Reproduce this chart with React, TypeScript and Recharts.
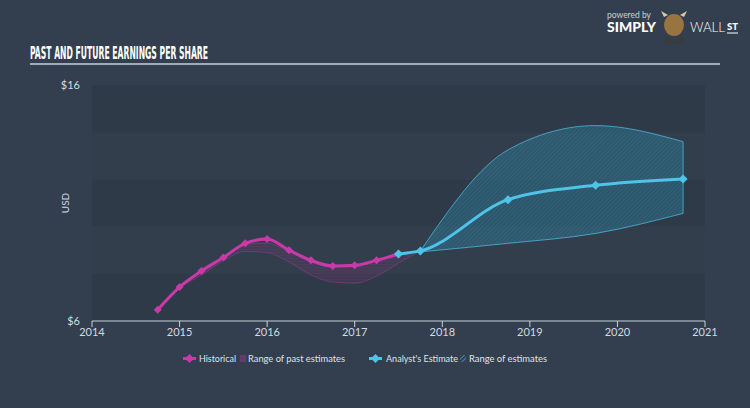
import React from 'react';
import { ComposedChart, Line, Area, XAxis, YAxis, ReferenceArea, ReferenceLine } from 'recharts';

// historico (trimestral)
const histYears = [2014.75, 2015, 2015.25, 2015.5, 2015.75, 2016, 2016.25, 2016.5, 2016.75, 2017, 2017.25, 2017.5];
const histEps = [6.48, 7.44, 8.12, 8.69, 9.29, 9.47, 9.0, 8.57, 8.33, 8.36, 8.57, 8.84];

// rango de estimaciones pasadas
const pastRangeYears = [2015, 2015.25, 2015.5, 2015.75, 2016, 2016.25, 2016.5, 2016.75, 2017, 2017.25, 2017.5, 2017.75];
const pastLow = [7.44, 7.95, 8.55, 8.95, 8.9, 8.5, 7.95, 7.65, 7.6, 7.9, 8.45, 8.97];
const pastHigh = [7.44, 8.12, 8.7, 9.25, 9.3, 8.95, 8.5, 8.3, 8.3, 8.55, 8.84, 8.97];

// estimacion de analistas
const estYears = [2017.5, 2017.75, 2018.75, 2019.75, 2020.75];
const estEps = [8.84, 8.97, 11.14, 11.75, 12.02];

const estRangeYears = [2017.75, 2018.75, 2019.75, 2020.75];
const estLow = [8.93, 9.29, 9.71, 10.56];
const estHigh = [8.97, 13.25, 14.28, 13.6];

const yearTicks = [2014, 2015, 2016, 2017, 2018, 2019, 2020, 2021];
const usdTicks = [6, 16];

const MAGENTA = '#c93aa9';
const CYAN = '#4fc3e8';
const BG = '#333f4e';
const AXIS = '#c9d2db';
const TXT = '#d3dae1';

// arma la tabla por año
const buildRows = () => {
    const map = new Map<number, any>();
    const get = (y: number) => {
        if (!map.has(y)) map.set(y, { year: y });
        return map.get(y);
    };
    histYears.forEach((y, i) => (get(y).hist = histEps[i]));
    estYears.forEach((y, i) => (get(y).est = estEps[i]));
    pastRangeYears.forEach((y, i) => (get(y).pastRange = [pastLow[i], pastHigh[i]]));
    estRangeYears.forEach((y, i) => (get(y).estRange = [estLow[i], estHigh[i]]));
    return Array.from(map.values()).sort((a, b) => a.year - b.year);
};
const rows = buildRows();

const diamond = (color: string, r: number) => (props: any) => {
    const { cx, cy, index } = props;
    if (cx == null || cy == null) return <g key={`n-${index}`} />;
    return <polygon key={`d-${index}`} points={`${cx},${cy - r} ${cx + r},${cy} ${cx},${cy + r} ${cx - r},${cy}`} fill={color} />;
};

function Overlay() {
    return (
        <svg width={750} height={408} style={{ position: 'absolute', left: 0, top: 0, pointerEvents: 'none' }}>
            <defs>
                <pattern id="legHatch" width="3" height="3" patternUnits="userSpaceOnUse" patternTransform="rotate(45)">
                    <line x1="0" y1="0" x2="0" y2="3" stroke={CYAN} strokeWidth="1.2" />
                </pattern>
            </defs>
            {/* titulo */}
            <text x={30} y={59} fill="#ffffff" fontFamily="'Liberation Sans Narrow', 'DejaVu Sans Condensed', sans-serif" fontWeight={700} fontSize={17} textLength={178} lengthAdjust="spacingAndGlyphs">PAST AND FUTURE EARNINGS PER SHARE</text>
            <line x1={30} y1={64} x2={720} y2={64} stroke="#c5d0da" strokeWidth={1.5} />

            {/* logo */}
            <text x={607} y={18} fill="#c9d0d8" fontFamily="Lato, sans-serif" fontSize={9} textLength={44} lengthAdjust="spacingAndGlyphs">powered by</text>
            <text x={607} y={32} fill="#ffffff" fontFamily="Lato, sans-serif" fontWeight={900} fontSize={13} textLength={49} lengthAdjust="spacingAndGlyphs">SIMPLY</text>
            <path d="M664,17 L661,11 L668,15 Z M684,17 L687,11 L680,15 Z" fill="#d8c9a8" />
            <ellipse cx={674} cy={25} rx={10} ry={11} fill="#9a7440" />
            <path d="M666,35 L674,42 L682,35 L683,44 L665,44 Z" fill="#3b3b3b" />
            <text x={690} y={32} fill="#ffffff" fontFamily="Lato, sans-serif" fontWeight={300} fontSize={13} textLength={35} lengthAdjust="spacingAndGlyphs">WALL</text>
            <text x={727} y={30} fill="#ffffff" fontFamily="Lato, sans-serif" fontWeight={900} fontSize={9} textLength={11} lengthAdjust="spacingAndGlyphs">ST</text>
            <line x1={727} y1={33} x2={738} y2={33} stroke="#ffffff" strokeWidth={1} />

            {/* USD */}
            <text x={0} y={0} transform="translate(69,203) rotate(-90)" textAnchor="middle" fill={TXT} fontFamily="Lato, sans-serif" fontSize={10}>USD</text>

            {/* leyenda */}
            <g fontFamily="Lato, sans-serif" fontSize={9.5} fill="#dde3e9">
                <line x1={183} y1={358.5} x2={196} y2={358.5} stroke={MAGENTA} strokeWidth={3} />
                <polygon points="189.5,354 194,358.5 189.5,363 185,358.5" fill={MAGENTA} />
                <text x={199} y={362} textLength={37} lengthAdjust="spacingAndGlyphs">Historical</text>
                <rect x={240} y={355} width={6} height={7} fill={MAGENTA} fillOpacity={0.3} />
                <text x={248} y={362} textLength={97} lengthAdjust="spacingAndGlyphs">Range of past estimates</text>

                <line x1={369} y1={358.5} x2={382} y2={358.5} stroke={CYAN} strokeWidth={3} />
                <polygon points="375.5,354 380,358.5 375.5,363 371,358.5" fill={CYAN} />
                <text x={386} y={362} textLength={72} lengthAdjust="spacingAndGlyphs">Analyst's Estimate</text>
                <rect x={460} y={355} width={6} height={7} fill="url(#legHatch)" />
                <text x={469} y={362} textLength={78} lengthAdjust="spacingAndGlyphs">Range of estimates</text>
            </g>
        </svg>
    );
}

export default function App() {
    return (
        <div style={{ position: 'relative', width: 750, height: 408, background: BG, overflow: 'hidden' }}>
            <style>{'body{margin:0}'}</style>
            <ComposedChart width={750} height={408} data={rows} margin={{ top: 85, right: 45, left: 0, bottom: 57 }}>
                <defs>
                    <pattern id="estHatch" width="3" height="3" patternUnits="userSpaceOnUse" patternTransform="rotate(45)">
                        <rect width="3" height="3" fill="#2b7896" fillOpacity={0.75} />
                        <line x1="0" y1="0" x2="0" y2="3" stroke={CYAN} strokeWidth="1" strokeOpacity={0.4} />
                    </pattern>
                    <pattern id="pastHatch" width="3" height="3" patternUnits="userSpaceOnUse">
                        <rect width="3" height="3" fill={MAGENTA} fillOpacity={0.18} />
                        <line x1="0" y1="0" x2="3" y2="0" stroke={MAGENTA} strokeWidth="0.8" strokeOpacity={0.35} />
                    </pattern>
                </defs>

                {/* franjas del fondo */}
                <ReferenceArea y1={6} y2={8} fill="#2e3a48" fillOpacity={1} stroke="none" />
                <ReferenceArea y1={8} y2={10} fill="#323e4c" fillOpacity={1} stroke="none" />
                <ReferenceArea y1={10} y2={12} fill="#2e3a48" fillOpacity={1} stroke="none" />
                <ReferenceArea y1={12} y2={14} fill="#323e4c" fillOpacity={1} stroke="none" />
                <ReferenceArea y1={14} y2={16} fill="#2e3a48" fillOpacity={1} stroke="none" />

                <XAxis
                    type="number"
                    dataKey="year"
                    domain={[2014, 2021]}
                    ticks={yearTicks}
                    stroke={AXIS}
                    tick={{ fill: TXT, fontSize: 11, fontFamily: 'Lato, sans-serif' }}
                    tickSize={6}
                    tickMargin={1}
                    height={30}
                    allowDataOverflow
                />
                <YAxis
                    domain={[6, 16]}
                    ticks={usdTicks}
                    tickFormatter={(v: number) => `$${v}`}
                    axisLine={false}
                    tickLine={false}
                    tickSize={0}
                    tickMargin={12}
                    width={92}
                    tick={{ fill: TXT, fontSize: 11, fontFamily: 'Lato, sans-serif' }}
                    allowDataOverflow
                />

                <Area type="monotone" dataKey="pastRange" fill="url(#pastHatch)" stroke={MAGENTA} strokeOpacity={0.35} strokeWidth={1} isAnimationActive={false} />
                <Area type="monotone" dataKey="estRange" fill="url(#estHatch)" stroke={CYAN} strokeOpacity={0.7} strokeWidth={1} isAnimationActive={false} />
                <ReferenceLine
                    segment={[
                        { x: estRangeYears[estRangeYears.length - 1], y: estLow[estLow.length - 1] },
                        { x: estRangeYears[estRangeYears.length - 1], y: estHigh[estHigh.length - 1] },
                    ]}
                    stroke={CYAN}
                    strokeOpacity={0.7}
                />

                <Line type="monotone" dataKey="hist" stroke={MAGENTA} strokeWidth={3} dot={diamond(MAGENTA, 4)} activeDot={false} isAnimationActive={false} />
                <Line type="monotone" dataKey="est" stroke={CYAN} strokeWidth={3} dot={diamond(CYAN, 4.5)} activeDot={false} isAnimationActive={false} />
            </ComposedChart>
            <Overlay />
        </div>
    );
}
